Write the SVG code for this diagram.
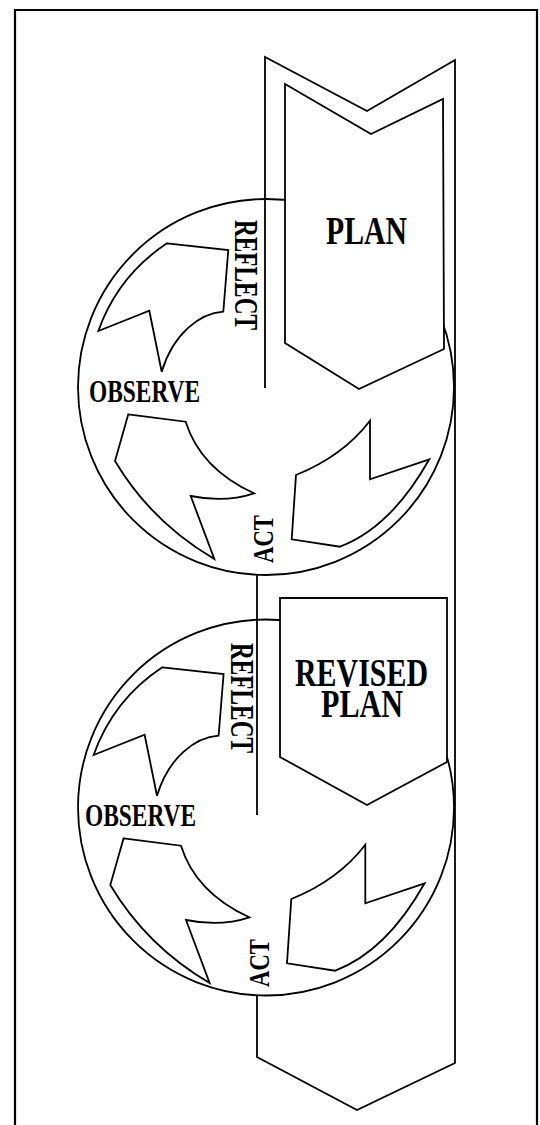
<svg xmlns="http://www.w3.org/2000/svg" xmlns:xlink="http://www.w3.org/1999/xlink" width="540" height="1125" viewBox="0 0 540 1125">
<style>
.ln{fill:none;stroke:#000;stroke-width:1.8;stroke-linejoin:miter}
.sh{fill:#fff;stroke:#000;stroke-width:1.8;stroke-linejoin:miter}
.t{font-family:"Liberation Serif","Times New Roman",serif;font-weight:bold;fill:#000}
</style>
<defs>
<g id="cycleArrows">
<path class="sh" d="M167,243.3 L228.3,250 L223.3,311.7 C200,313.3 173.3,333.3 161.7,371.7 L149.3,310.7 L98.3,331 A176,176 0 0 1 167,243.3 Z"/>
<path class="sh" d="M128.3,414.3 L185.7,421.7 Q200.2,468.5 254,493.3 Q225,503 190.7,496 L214.3,559 Q151.3,522 115,461 Z"/>
<path class="sh" d="M370,420.7 L370,479.3 L429.3,459.3 Q391.3,527 340,546.7 L291.7,539.3 L296,475 Q343,456 370,420.7 Z"/>
</g>
</defs>
<rect x="0" y="0" width="540" height="1125" fill="#fff"/>
<g id="frame">
<path d="M15,1130 L15,10 L537,10 L537,1130" fill="none" stroke="#000" stroke-width="2.2"/>
</g>
<g id="connectors">
<path class="ln" d="M265,388 L265,57 L367,111 L455,60 L455,1063 L357,1110 L257,1057 L257,996"/>
<path class="ln" d="M257,575 L257,815"/>
</g>
<g id="cycle1">
<circle class="ln" cx="266" cy="387" r="188"/>
<use xlink:href="#cycleArrows"/>
<text class="t" font-size="33" textLength="110" lengthAdjust="spacingAndGlyphs" transform="translate(235,220) rotate(90)">REFLECT</text>
<text class="t" x="89" y="402" font-size="31" textLength="111" lengthAdjust="spacingAndGlyphs">OBSERVE</text>
<text class="t" font-size="30" textLength="48" lengthAdjust="spacingAndGlyphs" transform="translate(273,563) rotate(-90)">ACT</text>
</g>
<g id="plan">
<path class="sh" d="M285,84 L371,134 L443,99 L444,349 L359,389 L285,343 Z"/>
<text class="t" x="326" y="244" font-size="39" textLength="81" lengthAdjust="spacingAndGlyphs">PLAN</text>
</g>
<g id="cycle2">
<circle class="ln" cx="266" cy="807.5" r="188"/>
<g transform="translate(-4.7,424)"><use xlink:href="#cycleArrows"/></g>
<text class="t" font-size="33" textLength="110" lengthAdjust="spacingAndGlyphs" transform="translate(230.5,643) rotate(90)">REFLECT</text>
<text class="t" x="85" y="826" font-size="31" textLength="111" lengthAdjust="spacingAndGlyphs">OBSERVE</text>
<text class="t" font-size="30" textLength="48" lengthAdjust="spacingAndGlyphs" transform="translate(269,987) rotate(-90)">ACT</text>
</g>
<g id="revised-plan">
<path class="sh" d="M280,598 L447,598 L447,762 L367,805 L280,757 Z"/>
<text class="t" x="295" y="686" font-size="40" textLength="133" lengthAdjust="spacingAndGlyphs">REVISED</text>
<text class="t" x="321" y="717" font-size="40" textLength="82" lengthAdjust="spacingAndGlyphs">PLAN</text>
</g>
</svg>
